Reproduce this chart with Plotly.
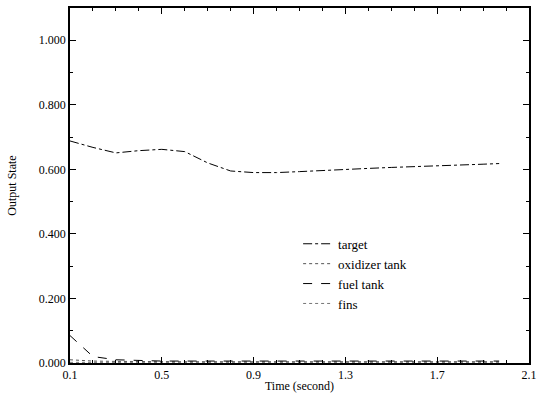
import plotly.graph_objects as go

time = [0.1, 0.2, 0.3, 0.4, 0.5, 0.6, 0.7, 0.8, 0.9, 1.0, 1.1, 1.2, 1.3, 1.4, 1.5, 1.6, 1.7, 1.8, 1.9, 1.97]
target = [0.688, 0.668, 0.651, 0.658, 0.662, 0.655, 0.620, 0.595, 0.590, 0.590, 0.593, 0.597,
          0.600, 0.603, 0.606, 0.608, 0.610, 0.613, 0.616, 0.618]
oxidizer_tank = [0.010, 0.006, 0.005, 0.004, 0.004, 0.004, 0.004, 0.004, 0.004, 0.004, 0.004, 0.004,
                 0.004, 0.004, 0.004, 0.004, 0.004, 0.004, 0.004, 0.004]
fuel_tank = [0.085, 0.020, 0.010, 0.007, 0.006, 0.006, 0.006, 0.006, 0.006, 0.006, 0.006, 0.006,
             0.006, 0.006, 0.006, 0.006, 0.006, 0.006, 0.006, 0.006]
fins = [0.002, 0.002, 0.002, 0.002, 0.002, 0.002, 0.002, 0.002, 0.002, 0.002, 0.002, 0.002,
        0.002, 0.002, 0.002, 0.002, 0.002, 0.002, 0.002, 0.002]

y_tickvals = [0.0, 0.2, 0.4, 0.6, 0.8, 1.0]
y_ticktext = ["0.000", "0.200", "0.400", "0.600", "0.800", "1.000"]
x_tickvals = [0.1, 0.5, 0.9, 1.3, 1.7, 2.1]
x_ticktext = ["0.1", "0.5", "0.9", "1.3", "1.7", "2.1"]

font = "Liberation Serif, Times New Roman, serif"

fig = go.Figure()
fig.add_trace(go.Scatter(x=time, y=target, name="target", mode="lines",
                         line=dict(color="black", width=1, dash="dashdot")))
fig.add_trace(go.Scatter(x=time, y=oxidizer_tank, name="oxidizer tank", mode="lines",
                         line=dict(color="#555555", width=1, dash="dot")))
fig.add_trace(go.Scatter(x=time, y=fuel_tank, name="fuel tank", mode="lines",
                         line=dict(color="black", width=1, dash="dash")))
fig.add_trace(go.Scatter(x=time, y=fins, name="fins", mode="lines",
                         line=dict(color="#777777", width=1, dash="dot")))

fig.update_layout(
    width=537, height=398,
    margin=dict(l=70, r=8, t=8, b=35, autoexpand=False),
    paper_bgcolor="white", plot_bgcolor="white",
    font=dict(family=font, size=12, color="black"),
    showlegend=True,
    legend=dict(x=0.497, y=0.378, xanchor="left", yanchor="top",
                bgcolor="rgba(0,0,0,0)", font=dict(size=13), tracegroupgap=0),
    xaxis=dict(range=[0.1, 2.1], tickvals=x_tickvals, ticktext=x_ticktext,
               ticklabeloverflow="allow", automargin=False,
               showline=True, linecolor="black", linewidth=1.5, mirror="ticks",
               ticks="inside", ticklen=6, tickcolor="black", showgrid=False, zeroline=False,
               minor=dict(dtick=0.1, ticks="inside", ticklen=3, tickcolor="black", showgrid=False),
               title=dict(text="Time (second)", standoff=0, font=dict(size=12))),
    yaxis=dict(range=[0, 1.1], tickvals=y_tickvals, ticktext=y_ticktext,
               showline=True, linecolor="black", linewidth=1.5, mirror="ticks",
               ticks="inside", ticklen=6, tickcolor="black", showgrid=False, zeroline=False,
               minor=dict(dtick=0.1, ticks="inside", ticklen=3, tickcolor="black", showgrid=False),
               title=dict(text="Output State", standoff=20, font=dict(size=12))),
)

fig.write_html("out.html")
